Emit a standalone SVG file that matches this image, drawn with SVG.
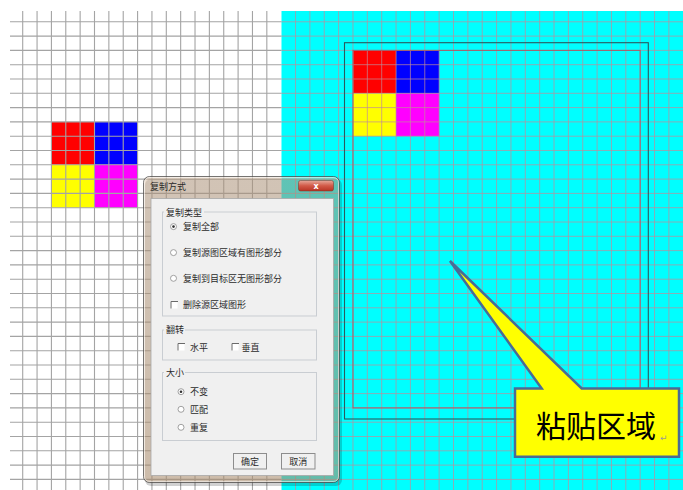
<svg xmlns="http://www.w3.org/2000/svg" width="683" height="490" viewBox="0 0 683 490">
<defs>
<style>
.gw{stroke:#a4a4a4;stroke-width:1.1;fill:none}
.gc{stroke:#c08c98;stroke-opacity:.7;stroke-width:1;fill:none}
.t{font-family:"Noto Sans CJK SC","Noto Sans",sans-serif;font-size:9px;fill:#2a2a2a}
.gb{fill:none;stroke:#c9cdd2;stroke-width:1}
.lbl{fill:#f0f0f0}
.rb{fill:#fff;stroke:#8a8a8a;stroke-width:.8}
.cb{fill:#fff;stroke:none}
.cbe{fill:none;stroke:#6a6a6a;stroke-width:1}
.btn{fill:#f0f0f0;stroke:#8d8d8d;stroke-width:1}
</style>
<linearGradient id="close" x1="0" y1="0" x2="0" y2="1">
<stop offset="0" stop-color="#e6a89a"/>
<stop offset="0.5" stop-color="#d25a48"/>
<stop offset="1" stop-color="#b83424"/>
</linearGradient>
<linearGradient id="frame" x1="0" y1="0" x2="0" y2="1">
<stop offset="0" stop-color="#d2b394" stop-opacity=".45"/>
<stop offset="1" stop-color="#c9a783" stop-opacity=".5"/>
</linearGradient>
</defs>
<rect x="0" y="0" width="683" height="490" fill="#ffffff"/>
<rect x="281.5" y="11" width="401.5" height="479" fill="#00ffff"/>
<g id="source-block">
<rect x="51.42" y="121.9" width="43.08" height="42.9" fill="#ff0000"/>
<rect x="94.5" y="121.9" width="43.08" height="42.9" fill="#0000ff"/>
<rect x="51.42" y="164.8" width="43.08" height="42.9" fill="#ffff00"/>
<rect x="94.5" y="164.8" width="43.08" height="42.9" fill="#ff00ff"/>
</g>
<g id="pasted-block">
<rect x="352.98" y="50.4" width="43.08" height="42.9" fill="#ff0000"/>
<rect x="396.06" y="50.4" width="43.08" height="42.9" fill="#0000ff"/>
<rect x="352.98" y="93.3" width="43.08" height="42.9" fill="#ffff00"/>
<rect x="396.06" y="93.3" width="43.08" height="42.9" fill="#ff00ff"/>
</g>
<path class="gw" d="M22.7 11V490M37.06 11V490M51.42 11V490M65.78 11V490M80.14 11V490M94.5 11V490M108.86 11V490M123.22 11V490M137.58 11V490M151.94 11V490M166.3 11V490M180.66 11V490M195.02 11V490M209.38 11V490M223.74 11V490M238.1 11V490M252.46 11V490M266.82 11V490
M10 21.8H281.5M10 36.1H281.5M10 50.4H281.5M10 64.7H281.5M10 79H281.5M10 93.3H281.5M10 107.6H281.5M10 121.9H281.5M10 136.2H281.5M10 150.5H281.5M10 164.8H281.5M10 179.1H281.5M10 193.4H281.5M10 207.7H281.5M10 222H281.5M10 236.3H281.5M10 250.6H281.5M10 264.9H281.5M10 279.2H281.5M10 293.5H281.5M10 307.8H281.5M10 322.1H281.5M10 336.4H281.5M10 350.7H281.5M10 365H281.5M10 379.3H281.5M10 393.6H281.5M10 407.9H281.5M10 422.2H281.5M10 436.5H281.5M10 450.8H281.5M10 465.1H281.5M10 479.4H281.5"/>
<path class="gc" d="M295.54 11V490M309.9 11V490M324.26 11V490M338.62 11V490M352.98 11V490M367.34 11V490M381.7 11V490M396.06 11V490M410.42 11V490M424.78 11V490M439.14 11V490M453.5 11V490M467.86 11V490M482.22 11V490M496.58 11V490M510.94 11V490M525.3 11V490M539.66 11V490M554.02 11V490M568.38 11V490M582.74 11V490M597.1 11V490M611.46 11V490M625.82 11V490M640.18 11V490M654.54 11V490M668.9 11V490
M281.5 21.8H683M281.5 36.1H683M281.5 50.4H683M281.5 64.7H683M281.5 79H683M281.5 93.3H683M281.5 107.6H683M281.5 121.9H683M281.5 136.2H683M281.5 150.5H683M281.5 164.8H683M281.5 179.1H683M281.5 193.4H683M281.5 207.7H683M281.5 222H683M281.5 236.3H683M281.5 250.6H683M281.5 264.9H683M281.5 279.2H683M281.5 293.5H683M281.5 307.8H683M281.5 322.1H683M281.5 336.4H683M281.5 350.7H683M281.5 365H683M281.5 379.3H683M281.5 393.6H683M281.5 407.9H683M281.5 422.2H683M281.5 436.5H683M281.5 450.8H683M281.5 465.1H683M281.5 479.4H683"/>
<g id="paste-frame">
<rect x="352.98" y="50.4" width="287.2" height="357.5" fill="none" stroke="#a0646e" stroke-width="1.1"/>
<rect x="344.5" y="42.7" width="303.8" height="376.3" fill="none" stroke="#2c5a5e" stroke-width="1.1"/>
</g>
<g id="callout">
<path d="M515 388.5H541.7L450 261L581.7 388.5H679V456.7H515Z" fill="#ffff00" stroke="#4a6b96" stroke-width="2.5" stroke-linejoin="miter"/>
<text x="536" y="436.5" style="font-family:'Noto Sans CJK SC','Noto Sans',sans-serif;font-size:30px;fill:#000">粘贴区域</text>
<text x="660" y="441" style="font-family:'DejaVu Sans',sans-serif;font-size:9px;fill:#9a9a9a">↵</text>
</g>
<g id="dialog">
<rect x="145" y="179" width="197" height="307" rx="6" fill="#000" opacity=".18"/>
<rect x="143.5" y="176.5" width="196" height="306" rx="6" fill="url(#frame)" stroke="#4a4a4a" stroke-opacity=".75" stroke-width="1"/>
<rect x="144.5" y="177.5" width="194" height="304" rx="5" fill="none" stroke="#ffffff" stroke-opacity=".5" stroke-width="1"/>
<text class="t" x="150" y="190">复制方式</text>
<rect x="298.5" y="180.5" width="35" height="10.5" rx="2" fill="url(#close)" stroke="#7a2a20" stroke-opacity=".6" stroke-width=".8"/>
<text x="316" y="188.6" text-anchor="middle" style="font-family:'DejaVu Sans',sans-serif;font-size:8px;font-weight:bold;fill:#fff">x</text>
<rect x="151" y="198.5" width="182.5" height="277" fill="#f0f0f0" stroke="#a9a9a9" stroke-width=".8"/>
<rect class="gb" x="162.5" y="212" width="154" height="104"/>
<rect class="lbl" x="164" y="207" width="40" height="10"/>
<text class="t" x="166" y="216">复制类型</text>
<circle class="rb" cx="173.5" cy="226.6" r="3"/>
<circle cx="173.5" cy="226.6" r="1.3" fill="#303030"/>
<text class="t" x="183" y="230">复制全部</text>
<circle class="rb" cx="173.5" cy="252.6" r="3"/>
<text class="t" x="183" y="256">复制源图区域有图形部分</text>
<circle class="rb" cx="173.5" cy="278.3" r="3"/>
<text class="t" x="183" y="281.7">复制到目标区无图形部分</text>
<rect class="cb" x="170.5" y="301.5" width="7" height="7"/>
<path class="cbe" d="M171 308.5V301.5H178"/>
<text class="t" x="183" y="308.3">删除源区域图形</text>
<rect class="gb" x="162.5" y="330" width="154" height="30"/>
<rect class="lbl" x="164" y="325" width="21" height="10"/>
<text class="t" x="166" y="333">翻转</text>
<rect class="cb" x="177.5" y="343.5" width="7" height="7"/>
<path class="cbe" d="M178 350.5V343.5H185"/>
<text class="t" x="190" y="350.7">水平</text>
<rect class="cb" x="231.5" y="343.5" width="7" height="7"/>
<path class="cbe" d="M232 350.5V343.5H239"/>
<text class="t" x="241.5" y="350.7">垂直</text>
<rect class="gb" x="162.5" y="372.5" width="154" height="68"/>
<rect class="lbl" x="164" y="367.5" width="21" height="10"/>
<text class="t" x="166" y="375.5">大小</text>
<circle class="rb" cx="181" cy="391.7" r="3"/>
<circle cx="181" cy="391.7" r="1.3" fill="#303030"/>
<text class="t" x="190" y="395">不变</text>
<circle class="rb" cx="181" cy="409.3" r="3"/>
<text class="t" x="190" y="412.6">匹配</text>
<circle class="rb" cx="181" cy="427.3" r="3"/>
<text class="t" x="190" y="430.6">重复</text>
<rect class="btn" x="233.5" y="453.5" width="33" height="15.5" stroke="#505050" stroke-width="1.3"/>
<text class="t" x="250" y="464.5" text-anchor="middle">确定</text>
<rect class="btn" x="281.5" y="453.5" width="33.5" height="15.5"/>
<text class="t" x="298.2" y="464.5" text-anchor="middle">取消</text>
</g>
</svg>
